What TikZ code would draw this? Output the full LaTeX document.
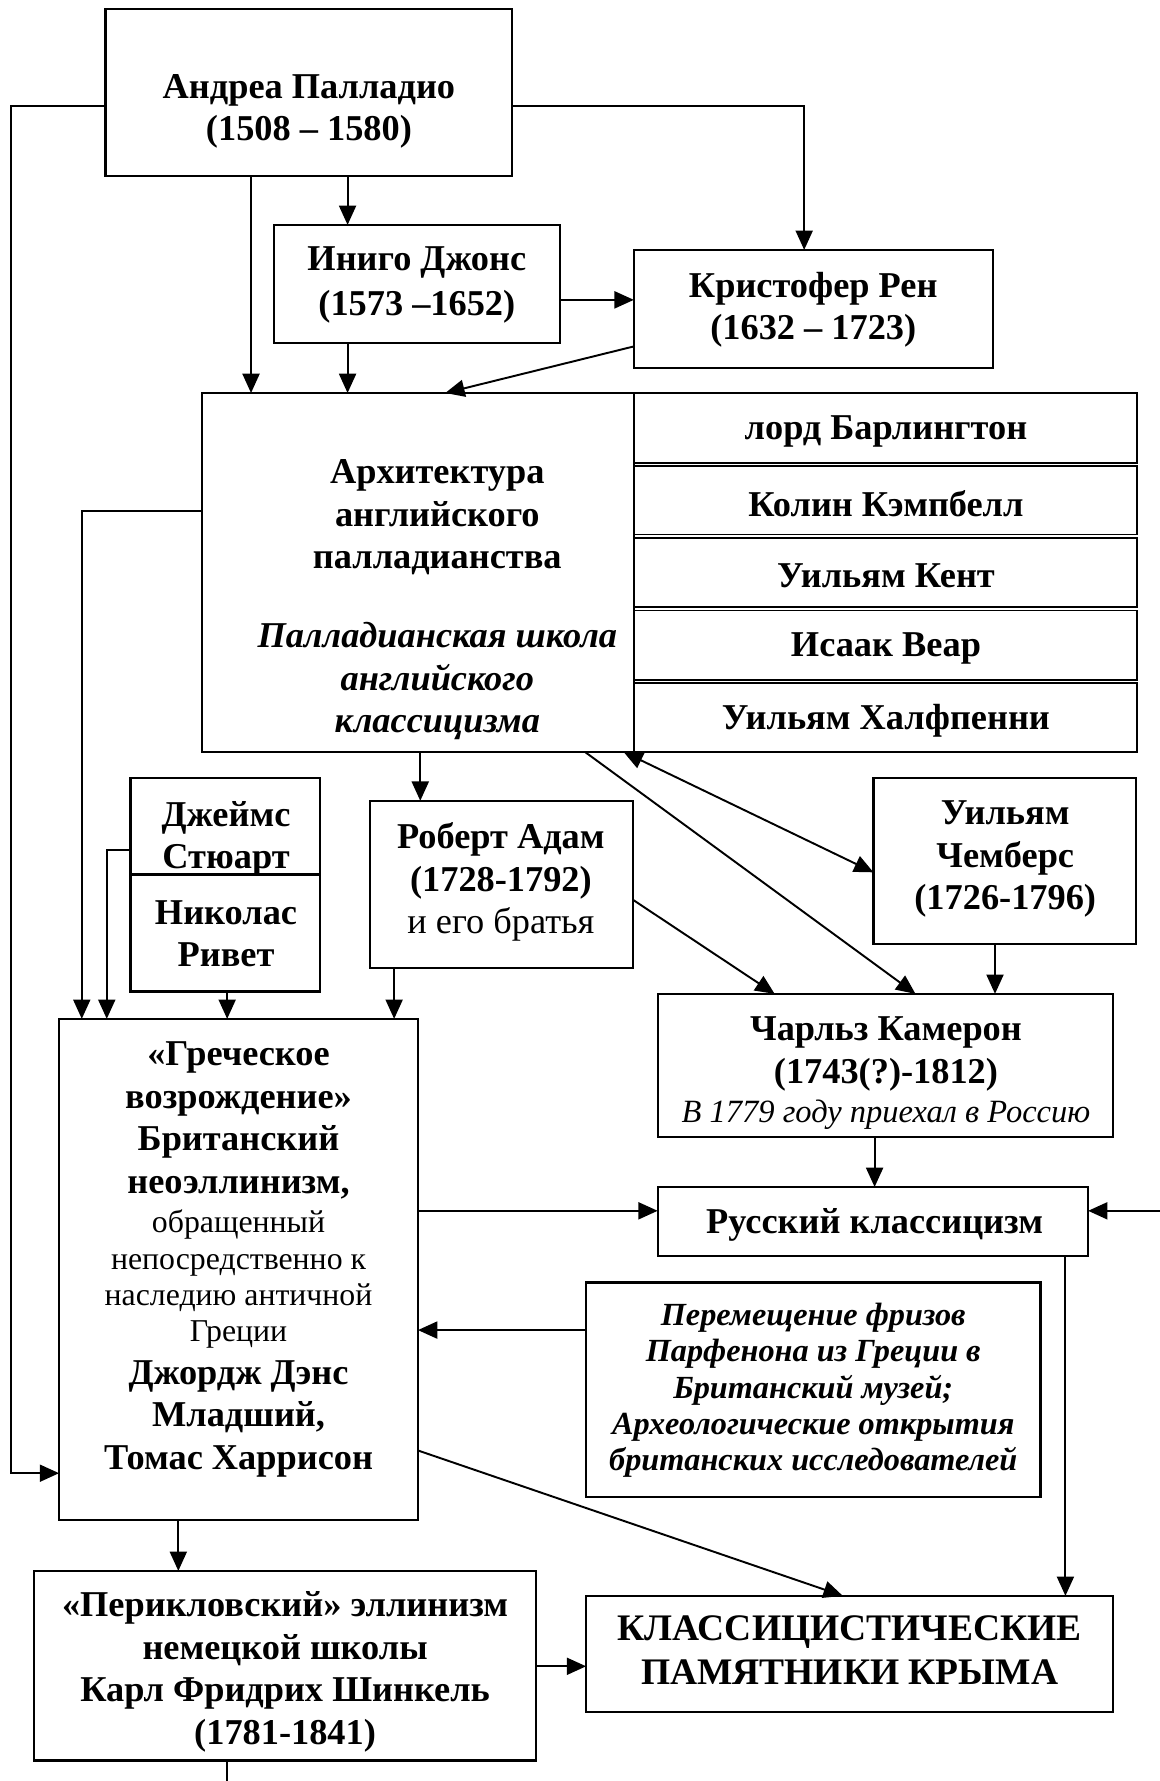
\documentclass[tikz,border=0pt]{standalone}
\usepackage{fontspec}
\setmainfont{Liberation Serif}
\usetikzlibrary{arrows.meta,calc}
\newcommand\RegF{\mdseries\upshape\fontsize{14}{16}\selectfont}
\newcommand\RegB{\mdseries\upshape\fontsize{16}{18.7}\selectfont}
\newcommand\ItF{\mdseries\itshape\fontsize{14.3}{16}\selectfont}
\newcommand\BoF{\bfseries\upshape\fontsize{16}{18.7}\selectfont}
\newcommand\BiF{\bfseries\itshape\fontsize{16}{18.7}\selectfont}
\newcommand\BiS{\bfseries\itshape\fontsize{14.2}{16}\selectfont}
\newcommand\DrawBox[5]{%
 \pgfmathsetmacro\bxw{((#4)-(#2))*0.5}%
 \pgfmathsetmacro\bxh{((#5)-(#3))*0.5}%
 \node[box,minimum width=\bxw pt,minimum height=\bxh pt] (#1) at ({((#2)+(#4))/2},{((#3)+(#5))/2}) {};}
\tikzset{
 box/.style={draw, line width=1pt, inner sep=0pt, outer sep=0pt},
 thinbox/.style={draw, line width=0.8pt, inner sep=0pt, outer sep=0pt},
 arr/.style={line width=0.85pt, -{Triangle[length=8.5pt,width=7.5pt]}},
 darr/.style={line width=0.85pt, {Triangle[length=8.5pt,width=7.5pt]}-{Triangle[length=8.5pt,width=7.5pt]}},
 txt/.style={align=center, inner sep=0pt, font=\BoF, yshift=-1.5pt},
}
\begin{document}
\begin{tikzpicture}[x=0.5pt,y=-0.5pt]
\fill[white] (0,0) rectangle (1021,1568);
\useasboundingbox (0,0) rectangle (1021,1568);
% boxes
\DrawBox{pal}{93}{8}{451}{155}
\DrawBox{inigo}{241}{198}{493}{302}
\DrawBox{wren}{558}{220}{874}{324}
\DrawBox{arch}{178}{346}{558}{662}
\tikzset{box/.style={thinbox}}
\DrawBox{r1}{558}{346}{1001}{407.5}
\DrawBox{r2}{558}{410.5}{1001}{470.5}
\DrawBox{r3}{558}{473.5}{1001}{534.5}
\DrawBox{r4}{558}{537.5}{1001}{598.5}
\DrawBox{r5}{558}{601.5}{1001}{662}
\tikzset{box/.style={draw, line width=1pt, inner sep=0pt, outer sep=0pt}}
\DrawBox{stuart}{115}{685}{282}{770}
\DrawBox{rivet}{115}{770}{282}{873}
\DrawBox{adam}{326}{705}{557}{852}
\DrawBox{chambers}{769}{685}{1000}{831}
\DrawBox{cameron}{579}{875}{980}{1001}
\DrawBox{russian}{579}{1045}{958}{1106}
\DrawBox{greek}{52}{897}{368}{1338}
\DrawBox{parth}{516}{1129}{916}{1318}
\DrawBox{pericles}{30}{1383}{472}{1550}
\DrawBox{crimea}{516}{1405}{980}{1507}
% texts
\node[txt] (palT) at (272,95) {Андреа Палладио\\(1508 – 1580)};
\node[txt] (inigoT) at (367,248) {Иниго Джонс\\[1pt](1573 –1652)};
\node[txt] (wrenT) at (716,269.5) {Кристофер Рен\\(1632 – 1723)};
\node[txt] (archT) at (385,525) {Архитектура\\английского\\палладианства\\[16pt]\BiF Палладианская школа\\\BiF английского\\\BiF классицизма};
\node[txt] (r1T) at (780,377) {лорд Барлингтон};
\node[txt] (r2T) at (780,440.5) {Колин Кэмпбелл};
\node[txt] (r3T) at (780,504) {Уильям Кент};
\node[txt] (r4T) at (780,568) {Исаак Веар};
\node[txt] (r5T) at (780,631.5) {Уильям Халфпенни};
\node[txt] (stuartT) at (199,735.5) {Джеймс\\Стюарт};
\node[txt] (rivetT) at (199,819) {Николас\\Ривет};
\node[txt] (adamT) at (441,773.5) {Роберт Адам\\(1728-1792)\\\RegB и его братья};
\node[txt] (chambersT) at (885,753.5) {Уильям\\Чемберс\\(1726-1796)};
\node[txt] (cameronT) at (780,942) {Чарльз Камерон\\(1743(?)-1812)\\[-1.3pt]\ItF В 1779 году приехал в Россию};
\node[txt] (russianT) at (770,1075) {Русский классицизм};
\node[txt] (greekT) at (210,1106) {«Греческое\\возрождение»\\Британский\\неоэллинизм,\\[-1.3pt]\RegF обращенный\\[-2.7pt]\RegF непосредственно к\\[-2.7pt]\RegF наследию античной\\[-2.7pt]\RegF Греции\\\BoF Джордж Дэнс\\\BoF Младший,\\\BoF Томас Харрисон};
\node[txt] (parthT) at (716,1221) {\BiS Перемещение фризов\\[-2.7pt]\BiS Парфенона из Греции в\\[-2.7pt]\BiS Британский музей;\\[-2.7pt]\BiS Археологические открытия\\[-2.7pt]\BiS британских исследователей};
\node[txt] (periclesT) at (251,1469) {«Перикловский» эллинизм\\немецкой школы\\Карл Фридрих Шинкель\\(1781-1841)};
\node[txt,yshift=1.5pt,font=\bfseries\fontsize{16.5}{19.5}\selectfont] (crimeaT) at (748,1452.5) {КЛАССИЦИСТИЧЕСКИЕ\\ПАМЯТНИКИ КРЫМА};
% free ends
\coordinate (rEdge) at (1021,1066);
\coordinate (bEdge) at (200,1568);
% connectors
\draw[arr] (pal.west |- 0,93) -- (10,93) -- (10,1297) -- (greek.west |- 0,1297);
\draw[arr] (pal.east |- 0,93) -- (708,93) -- (wren.north -| 708,0);
\draw[arr] (pal.south -| 221,0) -- (arch.north -| 221,0);
\draw[arr] (pal.south -| 306,0) -- (inigo.north -| 306,0);
\draw[arr] (inigo.south -| 306,0) -- (arch.north -| 306,0);
\draw[arr] (inigo.east |- 0,264) -- (wren.west |- 0,264);
\draw[arr] (wren.west |- 0,305) -- (arch.north -| 392,0);
\draw[arr] (arch.west |- 0,450) -- (72,450) -- (greek.north -| 72,0);
\draw[arr] (arch.south -| 370,0) -- (adam.north -| 370,0);
\draw[arr] (stuart.west |- 0,748) -- (94,748) -- (greek.north -| 94,0);
\draw[arr] (rivet.south -| 200,0) -- (greek.north -| 200,0);
\draw[arr] (adam.south -| 347,0) -- (greek.north -| 347,0);
\draw[darr] (arch.south -| 549,0) -- (chambers.west |- 0,768);
\draw[arr] (arch.south -| 515,0) -- (cameron.north -| 806,0);
\draw[arr] (adam.east |- 0,792) -- (cameron.north -| 682,0);
\draw[arr] (chambers.south -| 876,0) -- (cameron.north -| 876,0);
\draw[arr] (cameron.south -| 770,0) -- (russian.north -| 770,0);
\draw[arr] (greek.east |- 0,1066) -- (russian.west |- 0,1066);
\draw[arr] (rEdge) -- (russian.east |- rEdge);
\draw[arr] (russian.south -| 938,0) -- (crimea.north -| 938,0);
\draw[arr] (parth.west |- 0,1171) -- (greek.east |- 0,1171);
\draw[arr] (greek.east |- 0,1277) -- (crimea.north -| 742,0);
\draw[arr] (greek.south -| 157,0) -- (pericles.north -| 157,0);
\draw[arr] (pericles.east |- 0,1467) -- (crimea.west |- 0,1467);
\draw[line width=0.85pt] (pericles.south -| bEdge) -- (bEdge);
\end{tikzpicture}
\end{document}
